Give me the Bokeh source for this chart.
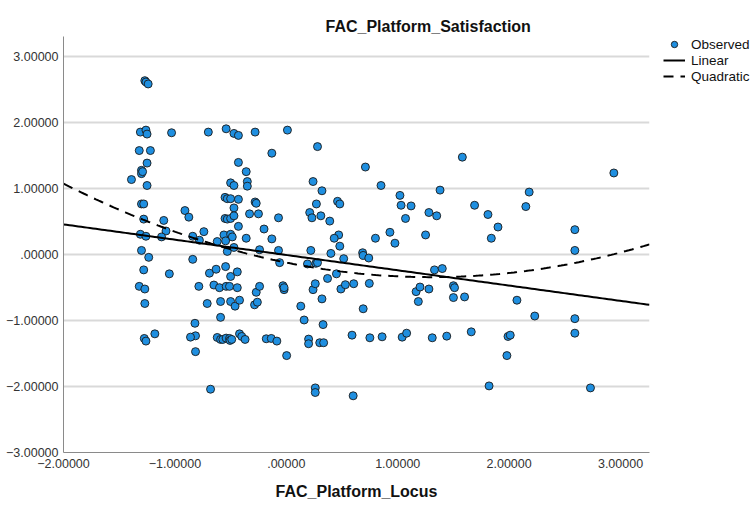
import numpy as np
from bokeh.plotting import figure
from bokeh.models import Legend, LegendItem, FixedTicker, Range1d, ColumnDataSource
from bokeh.embed import file_html
from bokeh.resources import INLINE

# Observed points (FAC_Platform_Locus, FAC_Platform_Satisfaction)
locus = [
    -1.27, -1.26, -1.24, -1.31, -1.26, -1.25, -1.03, -0.70, -0.54, -0.47,
    -0.43, -0.28, 0.01, 0.28, 0.71, 0.24, 0.32, 0.85, 1.38, 1.02,
    0.46, 0.48, 0.27, 1.03, 1.12, 0.21, 0.23, 0.31, 0.39, 1.07,
    1.28, 1.35, 0.47, 0.43, 0.80, 0.93, 1.25, 1.58, 2.94, 2.18,
    1.69, 1.81, 2.15, 1.90, 1.84, 2.59, -1.32, -1.22, -1.25, -1.30,
    -1.30, -1.29, -1.39, -1.25, -0.13, -0.43, -0.36, -0.50, -0.47, -0.35,
    -0.35, -0.55, -0.53, -0.50, -0.43, -0.28, -0.27, -0.47, -1.30, -1.28,
    -0.91, -0.875, -0.33, -0.25, -0.07, -1.28, -1.10, -0.55, -0.53, -0.50,
    -0.47, -0.43, -0.20, -0.74, -1.08, -0.56, -0.50, -0.485, -0.36, -0.13,
    -0.84, -1.12, -1.31, -1.26, -0.78, -0.62, -0.545, -0.07, -0.24, -0.47,
    -0.53, 0.48, 0.22, 0.40, 0.515, 0.685, 0.69, 0.74, -1.235, -1.30,
    -0.84, -1.28, -1.05, -1.32, -1.27, -1.27, -0.785, -0.69, -0.63, -0.545,
    -0.50, -0.44, -0.65, -0.60, -0.54, -0.51, -0.44, -0.71, -0.59, -0.50,
    -0.46, -0.42, -0.59, -0.82, -0.815, -0.86, -0.815, -1.18, -1.275, -1.26,
    -0.68, -0.62, -0.59, -0.57, -0.54, -0.51, -0.505, -0.49, -0.42, -0.40,
    -0.37, -0.27, -0.24, -0.285, -0.26, -0.18, -0.135, -0.085, 0.003, -0.06,
    -0.03, -0.02, -0.02, 0.13, 0.16, 0.19, 0.20, 0.20, 0.24, 0.26,
    0.265, 0.28, 0.26, 0.26, 0.30, 0.335, 0.32, 0.33, 0.37, 0.45,
    0.49, 0.53, 0.60, 0.59, 0.605, 0.69, 0.745, 0.75, 0.86, 0.975,
    1.04, 1.08, 1.31, 1.44, 1.33, 1.40, 1.165, 1.20, 1.28, 1.185,
    1.50, 1.51, 1.50, 1.60, 2.07, 2.23, 2.59, 1.66, 1.99, 2.01,
    2.59, 1.98, 1.82, 2.73, 2.59,
]
satisfaction = [
    2.64, 2.62, 2.59, 1.86, 1.89, 1.83, 1.85, 1.86, 1.91, 1.84,
    1.81, 1.86, 1.89, 1.64, 1.33, 1.11, 0.97, 1.05, 0.98, 0.90,
    0.81, 0.77, 0.77, 0.75, 0.74, 0.64, 0.56, 0.59, 0.51, 0.55,
    0.64, 0.59, 0.30, 0.25, 0.25, 0.34, 0.30, 1.48, 1.24, 0.95,
    0.75, 0.61, 0.73, 0.42, 0.25, 0.38, 1.58, 1.58, 1.39, 1.28,
    1.23, 1.26, 1.14, 1.05, 1.54, 1.40, 1.26, 1.09, 1.05, 1.11,
    1.04, 0.87, 0.85, 0.85, 0.84, 0.80, 0.78, 0.71, 0.77, 0.77,
    0.67, 0.57, 0.62, 0.62, 0.56, 0.54, 0.52, 0.55, 0.54, 0.55,
    0.59, 0.43, 0.39, 0.35, 0.36, 0.30, 0.31, 0.27, 0.25, 0.24,
    0.28, 0.27, 0.31, 0.28, 0.22, 0.20, 0.21, 0.065, 0.076, 0.11,
    0.05, 0.13, 0.065, 0.02, -0.06, 0.03, -0.01, -0.05, -0.04, 0.065,
    -0.07, -0.23, -0.29, -0.48, -0.52, -0.74, -0.48, -0.28, -0.22, -0.18,
    -0.33, -0.26, -0.46, -0.50, -0.48, -0.48, -0.50, -0.74, -0.71, -0.71,
    -0.78, -0.69, -0.95, -1.04, -1.23, -1.25, -1.47, -1.20, -1.27, -1.31,
    -2.04, -1.255, -1.285, -1.285, -1.265, -1.27, -1.30, -1.285, -1.20, -1.24,
    -1.285, -0.57, -0.48, -0.76, -0.72, -1.275, -1.27, -1.31, -1.53, -0.12,
    -0.47, -0.53, -0.50, -0.78, -0.99, -0.14, -1.28, -1.35, -0.53, -0.44,
    -0.13, -0.12, -2.02, -2.09, -1.335, -1.335, -0.67, -1.06, -0.36, -0.29,
    -0.52, -0.455, -2.14, -1.22, -0.44, -0.82, -0.435, -1.26, -1.245, 0.175,
    -1.25, -1.19, -1.26, -1.235, -0.23, -0.21, -0.56, -0.49, -0.52, -0.71,
    -0.47, -0.50, -0.65, -0.64, -0.69, -0.93, -0.97, -1.17, -1.24, -1.22,
    -1.19, -1.53, -1.99, -2.02, 0.065,
]

# Fitted model coefficients (constant, linear, quadratic)
linear_coef = [-0.004, -0.232]
quadratic_coef = [-0.119, -0.339, 0.130]

x_ticks = [-2, -1, 0, 1, 2, 3]
x_tick_labels = ["\u22122.00000", "\u22121.00000", ".00000", "1.00000", "2.00000", "3.00000"]
y_ticks = [-3, -2, -1, 0, 1, 2, 3]
y_tick_labels = ["\u22123.00000", "\u22122.00000", "\u22121.00000", ".00000", "1.00000", "2.00000", "3.00000"]

x_min, x_max = -2.0, 3.26
y_min, y_max = -3.0, 3.31

FONT = "Liberation Sans"

p = figure(frame_width=586, frame_height=416,
           x_range=Range1d(x_min, x_max), y_range=Range1d(y_min, y_max),
           output_backend="svg", toolbar_location=None,
           min_border_left=63, min_border_right=104,
           min_border_top=36, min_border_bottom=52)

p.title.text = "FAC_Platform_Satisfaction"
p.title.align = "left"
p.title.offset = 262
p.title.standoff = 4
p.title.text_font = FONT
p.title.text_font_size = "16px"
p.title.text_font_style = "bold"
p.title.text_color = "#111111"

p.outline_line_color = None
p.background_fill_color = "white"
p.border_fill_color = "white"

p.xgrid.grid_line_color = None
p.ygrid.grid_line_color = "#d9d9d9"
p.ygrid.grid_line_width = 2

for ax in (p.xaxis[0], p.yaxis[0]):
    ax.axis_line_color = "#8a8a8a"
    ax.axis_line_width = 1
    ax.major_tick_line_color = None
    ax.minor_tick_line_color = None
    ax.major_tick_out = 0
    ax.major_tick_in = 0
    ax.minor_tick_out = 0
    ax.minor_tick_in = 0
    ax.major_label_text_font = FONT
    ax.major_label_text_font_size = "12.5px"
    ax.major_label_text_color = "#333333"

p.xaxis[0].ticker = FixedTicker(ticks=x_ticks)
p.xaxis[0].major_label_overrides = {t: l for t, l in zip(x_ticks, x_tick_labels)}
p.yaxis[0].ticker = FixedTicker(ticks=y_ticks)
p.yaxis[0].major_label_overrides = {t: l for t, l in zip(y_ticks, y_tick_labels)}
p.ygrid.ticker = FixedTicker(ticks=y_ticks)
p.xaxis[0].major_label_standoff = 6
p.yaxis[0].major_label_standoff = 5

p.xaxis[0].axis_label = "FAC_Platform_Locus"
p.xaxis[0].axis_label_text_font = FONT
p.xaxis[0].axis_label_text_font_size = "16px"
p.xaxis[0].axis_label_text_font_style = "bold"
p.xaxis[0].axis_label_text_color = "#111111"
p.xaxis[0].axis_label_standoff = 12

src = ColumnDataSource(data=dict(x=locus, y=satisfaction))
obs = p.scatter("x", "y", source=src, size=8, fill_color="#1f8fe0",
                line_color="#1a1a1a", line_width=0.9)

xs = np.linspace(x_min, x_max, 200)
y_lin = linear_coef[0] + linear_coef[1] * xs
y_quad = quadratic_coef[0] + quadratic_coef[1] * xs + quadratic_coef[2] * xs ** 2
lin = p.line(xs, y_lin, line_color="black", line_width=2)
quad = p.line(xs, y_quad, line_color="black", line_width=2, line_dash="10 7")

legend = Legend(items=[LegendItem(label="Observed", renderers=[obs]),
                       LegendItem(label="Linear", renderers=[lin]),
                       LegendItem(label="Quadratic", renderers=[quad])],
                location=(14, 368), orientation="vertical",
                glyph_width=22, glyph_height=16, label_height=16,
                label_standoff=6, spacing=0, padding=0, margin=0,
                border_line_color=None, background_fill_alpha=0,
                label_text_font=FONT, label_text_font_size="13.5px",
                label_text_color="#111111")
p.add_layout(legend, "right")

open("out.html", "w").write(file_html(p, INLINE))
